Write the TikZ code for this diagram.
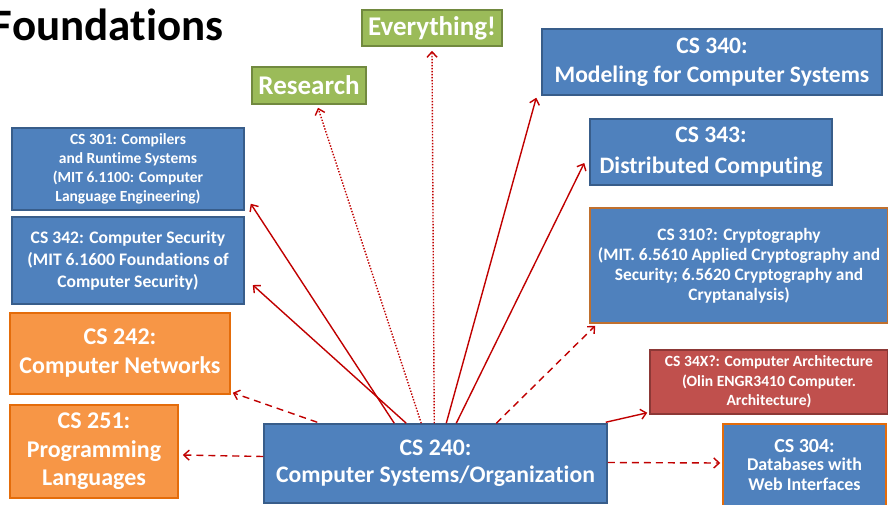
\documentclass[tikz,border=0pt]{standalone}
\usepackage{fontspec}
\setmainfont{Carlito}[Ligatures=NoCommon]
\usetikzlibrary{arrows.meta,calc}
\definecolor{bfill}{HTML}{4F81BD}
\definecolor{bdraw}{HTML}{385D8A}
\definecolor{gfill}{HTML}{9BBB59}
\definecolor{gdraw}{HTML}{71893F}
\definecolor{ofill}{HTML}{F79646}
\definecolor{odraw}{HTML}{E46C0A}
\definecolor{rfill}{HTML}{C0504D}
\definecolor{rdraw}{HTML}{8C3836}
\definecolor{bodraw}{HTML}{C0702E}
\definecolor{arrred}{HTML}{C00000}
\newcommand{\fs}[2]{\fontsize{#1}{#2}\selectfont}
\begin{document}
\begin{tikzpicture}[x=1pt,y=-1pt,
  box/.style={draw, line width=1.5pt, text=white, align=center, inner sep=0pt},
  bluebox/.style={box, fill=bfill, draw=bdraw},
  greenbox/.style={box, fill=gfill, draw=gdraw},
  orangebox/.style={box, fill=ofill, draw=odraw},
  redbox/.style={box, fill=rfill, draw=rdraw},
  blueorange/.style={box, fill=bfill, draw=bodraw},
  arr/.style={draw=arrred, line width=1.4pt, -{Straight Barb[length=5.5pt,width=10pt]}},
  dasharr/.style={arr, dash pattern=on 7pt off 5pt},
  dotarr/.style={arr, dash pattern=on 1.4pt off 1.6pt}
]
\useasboundingbox (0,0) rectangle (888,504);
\node[anchor=base east, font={\bfseries\fs{45}{50}}] (title) at (227,40) {Foundations};

\node[greenbox, minimum width=140, minimum height=36, font={\bfseries\fs{27}{30}}] (ev) at (432,28) {Everything!};
\node[greenbox, minimum width=114, minimum height=37, font={\bfseries\fs{27}{30}}] (res) at (309,85.5) {Research};
\node[bluebox, minimum width=340, minimum height=66, font={\bfseries\fs{23.6}{29}}] (cs340) at (712,62) {CS 340:\\Modeling for Computer Systems};
\node[bluebox, minimum width=242, minimum height=66, font={\bfseries\fs{23.6}{31}}] (cs343) at (711,152) {CS 343:\\Distributed Computing};
\node[bluebox, minimum width=232, minimum height=82, font={\bfseries\fs{15.5}{19}}] (cs301) at (128,169) {CS 301: Compilers\\and Runtime Systems\\(MIT 6.1100: Computer\\Language Engineering)};
\node[bluebox, minimum width=232, minimum height=87, font={\bfseries\fs{17.6}{22}}] (cs342) at (128,260.5) {CS 342: Computer Security\\(MIT 6.1600 Foundations of\\Computer Security)};
\node[blueorange, minimum width=298, minimum height=115, font={\bfseries\fs{17.4}{20}}] (cs310) at (739,265.5) {CS 310?: Cryptography\\(MIT. 6.5610 Applied Cryptography and\\Security; 6.5620 Cryptography and\\Cryptanalysis)};
\node[orangebox, minimum width=220, minimum height=81, font={\bfseries\fs{24}{29}}] (cs242) at (120,353.5) {CS 242:\\Computer Networks};
\node[orangebox, minimum width=168, minimum height=93, font={\bfseries\fs{24}{28.5}}] (cs251) at (94,451.5) {CS 251:\\Programming\\Languages};
\node[bluebox, minimum width=343, minimum height=79, font={\bfseries\fs{23.7}{27}}] (cs240) at (435.5,463.5) {CS 240:\\Computer Systems/Organization};
\node[redbox, minimum width=238, minimum height=64, font={\bfseries\fs{15.6}{19.5}}] (cs34x) at (769,382) {CS 34X?: Computer Architecture\\(Olin ENGR3410 Computer.\\Architecture)};
\node[blueorange, draw=odraw, minimum width=163, minimum height=82, font={\bfseries\fs{18}{20}}, text depth=0pt] (cs304) at (804.5,465) {\raisebox{-3pt}{\fs{20}{20}CS 304:}\\[1pt]Databases with\\Web Interfaces};

\draw[arr] ($(cs240.north west)+(131,0)$) -- ($(cs301.south east)+(6,-7)$);
\draw[arr] ($(cs240.north west)+(143,0)$) -- ($(cs342.east)+(8,24.5)$);
\draw[dotarr] ($(cs240.north west)+(158,0)$) -- ($(res.south)+(9,3)$);
\draw[dotarr] ($(cs240.north west)+(171,0)$) -- ($(ev.south)+(0,4)$);
\draw[arr] ($(cs240.north west)+(183,0)$) -- ($(cs340.south west)+(-5,2)$);
\draw[arr] ($(cs240.north west)+(193,0)$) -- ($(cs343.west)+(-5,11)$);
\draw[dasharr] ($(cs240.north west)+(233,0)$) -- ($(cs310.south west)+(6,2)$);
\draw[arr] ($(cs240.north east)+(-2,-1)$) -- ($(cs34x.south west)+(-2,-2)$);
\draw[dasharr] ($(cs240.east)+(0,-1)$) -- ($(cs304.west)+(-2,-2)$);
\draw[dasharr] ($(cs240.west)+(0,-7)$) -- ($(cs251.east)+(4,3.5)$);
\draw[dasharr] ($(cs240.north west)+(54,-1)$) -- ($(cs242.south east)+(2,-2)$);
\end{tikzpicture}
\end{document}
